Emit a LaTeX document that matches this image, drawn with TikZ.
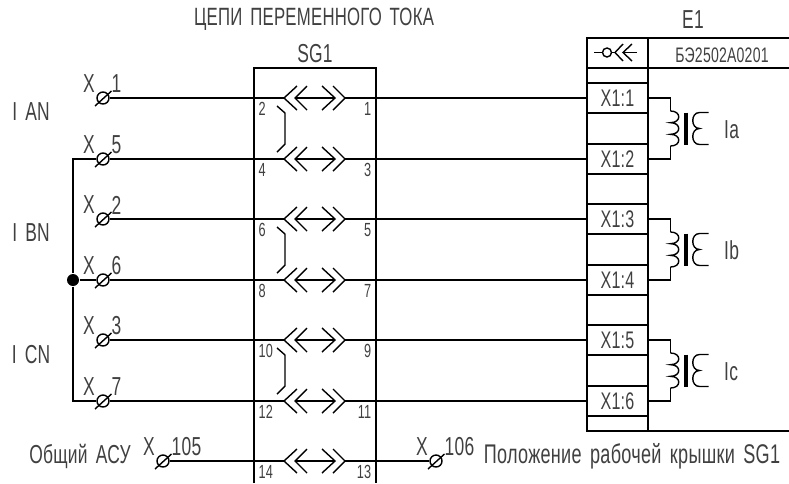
\documentclass[tikz,border=0pt]{standalone}
\usepackage{fontspec}
\setmainfont[FakeStretch=0.67, LetterSpace=1, WordSpace=1.6]{Liberation Sans}
\usetikzlibrary{positioning}

\begin{document}
\begin{tikzpicture}[
 x=1pt, y=-1pt,
 every path/.style={line width=1.4pt},
 txtnode/.style={inner sep=0, text=black!75, font=\fontsize{#1}{#1}\selectfont},
 txtnode/.default=26,
 xbox/.style={rectangle, draw=black, minimum width=61, minimum height=30, inner sep=0, text=black!75, font=\fontsize{24}{24}\selectfont},
 pics/terminal/.style={code={
  \node[circle, draw=black, minimum size=12, inner sep=0] (-ring) at (0,0) {};
  \draw (-8,8) -- (8.5,-7);
  \node[txtnode] (-x) at (-14,-14) {X};
  \node[txtnode, anchor=west] (-num) at (8,-14) {#1};
 }},
 pics/contact/.style 2 args={code={
  \coordinate (-left) at (-31,0);
  \coordinate (-right) at (30,0);
  \draw (-18,-12) -- (-left) -- (-18,12);
  \draw (-8,-12) -- (-20,0) -- (-8,12);
  \draw (-20,0) -- (20,0);
  \draw (7,-12) -- (20,0) -- (7,12);
  \draw (18,-12) -- (-right) -- (18,12);
  \node[txtnode=19, anchor=west] (-pinl) at (-57,11) {#1};
  \node[txtnode=19, anchor=east] (-pinr) at (57,11) {#2};
 }},
 pics/link/.style={code={
  \draw (0,8) -- (8,15) -- (8,46) -- (0,54);
 }},
 pics/sensor/.style={code={
  \coordinate (-top) at (0,-17.5);
  \coordinate (-bot) at (0,17.5);
  \draw (-top) .. controls (11,-17.5) and (11,-5.83) .. (0,-5.83)
   .. controls (11,-5.83) and (11,5.83) .. (0,5.83)
   .. controls (11,5.83) and (11,17.5) .. (-bot);
  \draw[line width=3.5pt] (15.7,-16) -- (15.7,16);
  \draw (38,-16) -- (29,-16) .. controls (20,-16) and (20,0) .. (29,0)
   .. controls (20,0) and (20,16) .. (29,16) -- (38,16);
  \node[txtnode, anchor=west] (-name) at (53,1) {I#1};
 }},
 ]
 \useasboundingbox (0,0) rectangle (789,483);

 %Headings
 \node[txtnode=25] (title_node) at (314,19) {ЦЕПИ ПЕРЕМЕННОГО ТОКА};
 \node[txtnode] (sg_node) at (315,54) {SG1};
 \node[txtnode] (e_node) at (693,20) {E1};
 \node[txtnode] (ian_node) at (31,112) {I AN};
 \node[txtnode] (ibn_node) at (31,233) {I BN};
 \node[txtnode] (icn_node) at (31,355) {I CN};
 \node[txtnode] (common_node) at (80,456) {Общий АСУ};
 \node[txtnode=27] (lid_node) at (632,456) {Положение рабочей крышки SG1};

 %Terminals
 \pic (t1) at (103,98) {terminal=1};
 \pic (t5) at (103,159) {terminal=5};
 \pic (t2) at (103,219) {terminal=2};
 \pic (t6) at (103,280) {terminal=6};
 \pic (t3) at (103,340) {terminal=3};
 \pic (t7) at (103,401) {terminal=7};
 \pic (t105) at (163,461) {terminal=105};
 \pic (t106) at (436,461) {terminal=106};
 \node[circle, fill=black, minimum size=12, inner sep=0] (bus_dot) at (73,280) {};
 \coordinate (bus_top) at (73,159);
 \coordinate (bus_bot) at (73,401);

 %SG1 block
 \draw (254,483) -- (254,68) -- (376,68) -- (376,483);
 \pic (c1) at (315,98) {contact={2}{1}};
 \pic (c2) at (315,159) {contact={4}{3}};
 \pic (c3) at (315,219) {contact={6}{5}};
 \pic (c4) at (315,280) {contact={8}{7}};
 \pic (c5) at (315,340) {contact={10}{9}};
 \pic (c6) at (315,401) {contact={12}{11}};
 \pic (c7) at (315,461) {contact={14}{13}};
 \pic (link1) at (277,98) {link};
 \pic (link2) at (277,219) {link};
 \pic (link3) at (277,340) {link};

 %E1 block
 \draw (789,38) -- (587,38) -- (587,431) -- (789,431);
 \draw (587,68) -- (789,68);
 \draw (648,38) -- (648,431);
 \node[txtnode=21] (code_node) at (722,55) {БЭ2502А0201};
 \node[circle, draw=black, minimum size=9, inner sep=0] (plug_ring) at (607,52.5) {};
 \draw (594,52.5) -- (plug_ring);
 \coordinate (plug_tip) at (615,52.5);
 \draw (plug_ring) -- (plug_tip);
 \draw (623,44) -- (plug_tip) -- (623,61);
 \draw (632,44) -- (623,52.5) -- (632,61);
 \draw (623,52.5) -- (637,52.5);
 \node[xbox] (x1_node) at (617.5,98) {X1:1};
 \node[xbox] (x2_node) at (617.5,159) {X1:2};
 \node[xbox] (x3_node) at (617.5,219) {X1:3};
 \node[xbox] (x4_node) at (617.5,280) {X1:4};
 \node[xbox] (x5_node) at (617.5,340) {X1:5};
 \node[xbox] (x6_node) at (617.5,401) {X1:6};
 \pic (ia) at (670.5,128.5) {sensor=a};
 \pic (ib) at (670.5,249.5) {sensor=b};
 \pic (ic) at (670.5,370.5) {sensor=c};

 %Lines
 \draw (t1-ring) -- (c1-left);
 \draw (t5-ring) -- (c2-left);
 \draw (t2-ring) -- (c3-left);
 \draw (t6-ring) -- (c4-left);
 \draw (t3-ring) -- (c5-left);
 \draw (t7-ring) -- (c6-left);
 \draw (t105-ring) -- (c7-left);
 \draw (c7-right) -- (t106-ring);
 \draw (c1-right) -- (x1_node.west);
 \draw (c2-right) -- (x2_node.west);
 \draw (c3-right) -- (x3_node.west);
 \draw (c4-right) -- (x4_node.west);
 \draw (c5-right) -- (x5_node.west);
 \draw (c6-right) -- (x6_node.west);
 \draw (t5-ring) -- (bus_top) -- (bus_dot) -- (bus_bot) -- (t7-ring);
 \draw (bus_dot) -- (t6-ring);
 \draw (x1_node.east) -| (ia-top);
 \draw (x2_node.east) -| (ia-bot);
 \draw (x3_node.east) -| (ib-top);
 \draw (x4_node.east) -| (ib-bot);
 \draw (x5_node.east) -| (ic-top);
 \draw (x6_node.east) -| (ic-bot);
\end{tikzpicture}
\end{document}
